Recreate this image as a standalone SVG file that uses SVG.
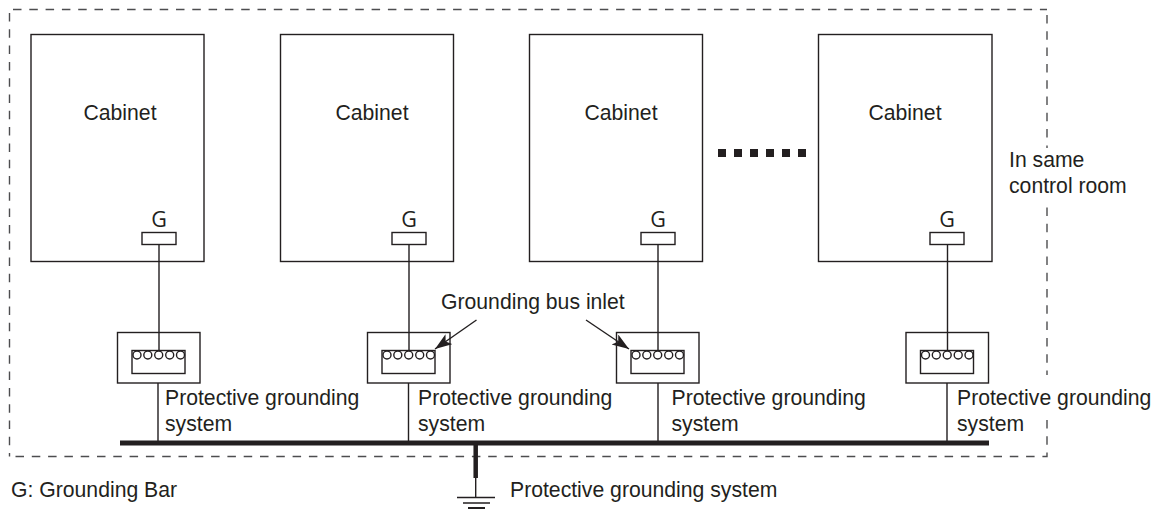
<svg xmlns="http://www.w3.org/2000/svg" width="1165" height="509" viewBox="0 0 1165 509">
<style>
text{font-family:"Liberation Sans",Arial,sans-serif;font-size:21.2px;fill:#231f20}
.g{font-family:"Open Sans","Liberation Sans",sans-serif;font-size:21.500px;text-anchor:middle}
.b{fill:#fff;stroke:#231f20;stroke-width:1.4}
.l{fill:none;stroke:#231f20;stroke-width:1.4}
.d{fill:none;stroke:#4d4d4f;stroke-width:1.4;stroke-dasharray:8.500 7.800}
</style>
<defs>
<g id="inlet">
<rect class="b" x="0" y="0" width="82.500" height="50.500"/>
<rect class="b" x="14.500" y="18" width="53" height="23"/>
<g class="b"><circle cx="19.500" cy="22.500" r="4"/><circle cx="30.300" cy="22.500" r="4"/><circle cx="41.200" cy="22.500" r="4"/><circle cx="52.200" cy="22.500" r="4"/><circle cx="63" cy="22.500" r="4"/></g>
</g>
<marker id="ah" markerUnits="userSpaceOnUse" markerWidth="20" markerHeight="14" refX="17" refY="6" orient="auto"><path d="M0 0L17 6L0 12L4 6Z" fill="#231f20"/></marker>
</defs>
<g id="room">
<path class="d" d="M13 9.500H1047"/>
<path class="d" d="M1047 15V148"/>
<path class="d" d="M1047 207.500V375"/>
<path class="d" d="M1047 420V456.500H9.500"/>
<path class="d" d="M9.500 13V456.500"/>
</g>
<g id="cabinet1"><rect class="b" x="31" y="34.500" width="173" height="227"/><text x="83.500" y="120">Cabinet</text><text class="g" x="159" y="227">G</text><rect class="b" x="142" y="232.500" width="34" height="12"/></g>
<g id="cabinet2"><rect class="b" x="280.500" y="34.500" width="173" height="227"/><text x="335.500" y="120">Cabinet</text><text class="g" x="409" y="227">G</text><rect class="b" x="392" y="232.500" width="34" height="12"/></g>
<g id="cabinet3"><rect class="b" x="529.500" y="34.500" width="173" height="227"/><text x="584.500" y="120">Cabinet</text><text class="g" x="658" y="227">G</text><rect class="b" x="641" y="232.500" width="34" height="12"/></g>
<g id="cabinet4"><rect class="b" x="818.500" y="34.500" width="173.500" height="227"/><text x="868.500" y="120">Cabinet</text><text class="g" x="947" y="227">G</text><rect class="b" x="930" y="232.500" width="34" height="12"/></g>
<g id="dots" fill="#231f20"><rect x="718" y="149" width="8" height="8"/><rect x="734" y="149" width="8" height="8"/><rect x="750" y="149" width="8" height="8"/><rect x="766" y="149" width="8" height="8"/><rect x="782" y="149" width="8" height="8"/><rect x="798" y="149" width="8" height="8"/></g>
<g id="inlet1"><use href="#inlet" x="117.500" y="332.500"/></g>
<g id="inlet2"><use href="#inlet" x="367.500" y="332.500"/></g>
<g id="inlet3"><use href="#inlet" x="616.500" y="332.500"/></g>
<g id="inlet4"><use href="#inlet" x="906" y="332.500"/></g>
<g id="connectors">
<path class="l" d="M159 244.500V351M409 244.500V351M658 244.500V351M947.500 244.500V351M158 383V443M408.500 383V443M658 383V443M947 383V443"/>
<path d="M120 443H989" stroke="#231f20" stroke-width="5" fill="none"/>
<path d="M475.700 443V478" stroke="#231f20" stroke-width="4.500" fill="none"/>
<path class="l" d="M475.700 478V497M457 497.500H495M463 503H490"/>
<path d="M468 508H485" stroke="#231f20" stroke-width="2" fill="none"/>
<path class="l" d="M476.500 320L435 349" marker-end="url(#ah)"/>
<path class="l" d="M586 320L629 349" marker-end="url(#ah)"/>
</g>
<g id="labels">
<text x="165" y="405">Protective grounding</text><text x="165" y="430.500">system</text>
<text x="418" y="405">Protective grounding</text><text x="418" y="430.500">system</text>
<text x="671.500" y="405">Protective grounding</text><text x="671.500" y="430.500">system</text>
<text x="957" y="405">Protective grounding</text><text x="957" y="430.500">system</text>
<text x="441" y="309">Grounding bus inlet</text>
<text x="1009" y="167">In same</text><text x="1009" y="192.500">control room</text>
<text x="11" y="497">G: Grounding Bar</text>
<text x="510" y="497">Protective grounding system</text>
</g>
</svg>
